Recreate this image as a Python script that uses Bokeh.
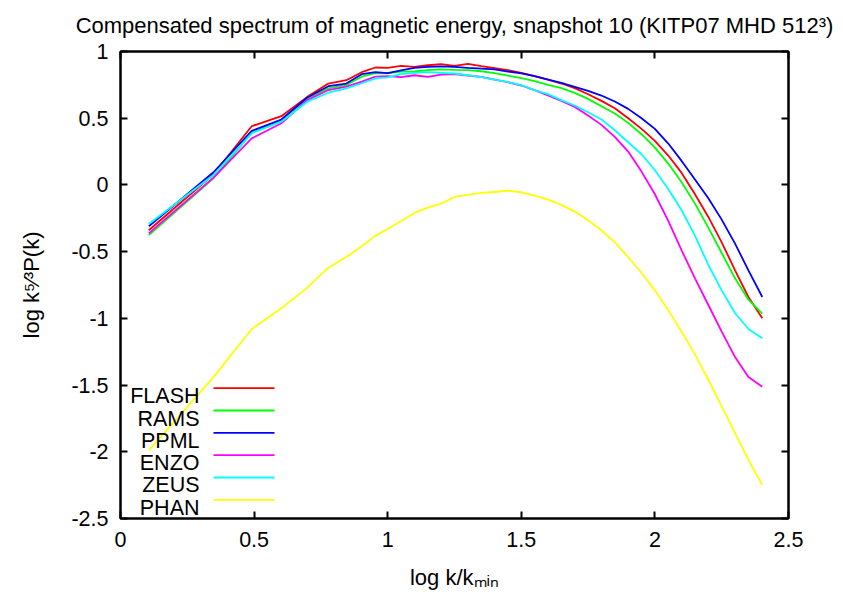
import math
from bokeh.plotting import figure
from bokeh.models import Range1d, FixedTicker, CustomJSTickFormatter, LinearAxis, Label, BoxAnnotation
from bokeh.embed import file_html
from bokeh.resources import INLINE

# ---------------- data ----------------
TITLE = "Compensated spectrum of magnetic energy, snapshot 10 (KITP07 MHD 512\u00b3)"
X_LABEL = "log k/k\u2098\u1d62\u2099"
Y_LABEL = "log k\u2075\u2044\u00b3P(k)"
X_TICKS = [0, 0.5, 1, 1.5, 2, 2.5]
Y_TICKS = [-2.5, -2, -1.5, -1, -0.5, 0, 0.5, 1]

log_k = [0.106, 0.348, 0.491, 0.602, 0.699, 0.778, 0.845, 0.903, 0.954, 1.0,
         1.05, 1.1, 1.15, 1.2, 1.25, 1.3, 1.35, 1.4, 1.45, 1.5,
         1.55, 1.6, 1.65, 1.7, 1.75, 1.8, 1.85, 1.9, 1.95, 2.0,
         2.05, 2.1, 2.15, 2.2, 2.25, 2.3, 2.35, 2.402]

flash = [-0.34, 0.08, 0.44, 0.515, 0.66, 0.76, 0.785, 0.845, 0.88, 0.878,
         0.892, 0.885, 0.897, 0.905, 0.893, 0.907, 0.89, 0.876, 0.86, 0.84,
         0.815, 0.79, 0.76, 0.725, 0.68, 0.63, 0.575, 0.50, 0.42, 0.33,
         0.22, 0.09, -0.07, -0.24, -0.43, -0.64, -0.84, -1.0]

rams = [-0.376, 0.05, 0.39, 0.486, 0.649, 0.724, 0.749, 0.811, 0.837, 0.837,
        0.849, 0.85, 0.861, 0.866, 0.862, 0.86, 0.852, 0.838, 0.82, 0.80,
        0.778, 0.75, 0.725, 0.69, 0.645, 0.59, 0.535, 0.465, 0.38, 0.28,
        0.16, 0.02, -0.14, -0.32, -0.51, -0.70, -0.86, -0.965]

ppml = [-0.31, 0.095, 0.405, 0.49, 0.655, 0.74, 0.76, 0.83, 0.845, 0.838,
        0.858, 0.877, 0.885, 0.888, 0.885, 0.878, 0.872, 0.866, 0.85, 0.836,
        0.815, 0.79, 0.765, 0.735, 0.705, 0.67, 0.625, 0.57, 0.50, 0.42,
        0.31, 0.18, 0.04, -0.10, -0.26, -0.44, -0.64, -0.84]

enzo = [-0.363, 0.055, 0.349, 0.462, 0.636, 0.711, 0.736, 0.774, 0.811, 0.816,
        0.808, 0.822, 0.81, 0.826, 0.83, 0.82, 0.81, 0.79, 0.77, 0.745,
        0.71, 0.67, 0.63, 0.585, 0.52, 0.45, 0.36, 0.25, 0.10, -0.07,
        -0.27, -0.49, -0.70, -0.90, -1.1, -1.29, -1.44, -1.513]

zeus = [-0.293, 0.075, 0.387, 0.474, 0.624, 0.691, 0.724, 0.762, 0.799, 0.806,
        0.83, 0.84, 0.845, 0.84, 0.835, 0.822, 0.808, 0.79, 0.77, 0.748,
        0.71, 0.68, 0.636, 0.595, 0.545, 0.49, 0.41, 0.32, 0.23, 0.11,
        -0.03, -0.19, -0.38, -0.6, -0.79, -0.96, -1.08, -1.15]

phan = [-1.99, -1.44, -1.08, -0.925, -0.77, -0.62, -0.54, -0.46, -0.38, -0.33,
        -0.27, -0.21, -0.17, -0.14, -0.09, -0.075, -0.06, -0.053, -0.043, -0.055,
        -0.08, -0.11, -0.15, -0.2, -0.265, -0.34, -0.43, -0.54, -0.66, -0.79,
        -0.94, -1.10, -1.27, -1.46, -1.66, -1.86, -2.06, -2.25]

NAMES = ["FLASH", "RAMS", "PPML", "ENZO", "ZEUS", "PHAN"]
SERIES = [flash, rams, ppml, enzo, zeus, phan]
COLORS = ["#ff0000", "#00ff00", "#0000ff", "#ff00ff", "#00ffff", "#ffff00"]

# ---------------- layout ----------------
W, H = 843, 594
FL, FR, FT, FB = 120, 788, 51, 518   # frame edges in canvas pixels
FONT = "Liberation Sans"
FS = "21.5px"
FS_BIG = "22px"

p = figure(width=W, height=H, output_backend="svg", toolbar_location=None,
           x_range=Range1d(0, 2.5), y_range=Range1d(-2.5, 1),
           min_border_left=FL, min_border_right=W - FR,
           min_border_top=FT, min_border_bottom=H - FB)
p.xgrid.visible = False
p.ygrid.visible = False
p.outline_line_color = "black"
p.outline_line_width = 2
p.background_fill_color = "white"
p.border_fill_color = "white"

p.title.text = TITLE
p.title.align = "center"
p.title.vertical_align = "top"
p.title.text_font = FONT
p.title.text_font_size = FS_BIG
p.title.text_font_style = "normal"
p.title.text_color = "black"
p.title.standoff = 24

fmt = CustomJSTickFormatter(code="return tick.toString();")
blank = CustomJSTickFormatter(code="return '';")


def style_axis(ax, ticks, formatter):
    ax.ticker = FixedTicker(ticks=ticks, minor_ticks=[])
    ax.formatter = formatter
    ax.axis_line_color = "black"
    ax.axis_line_width = 2
    ax.major_tick_line_color = "black"
    ax.major_tick_line_width = 2
    ax.major_tick_in = 7
    ax.major_tick_out = 0
    ax.minor_tick_line_color = None
    ax.major_label_text_font = FONT
    ax.major_label_text_font_size = FS
    ax.major_label_text_color = "black"
    ax.axis_label_text_font = FONT
    ax.axis_label_text_font_size = FS_BIG
    ax.axis_label_text_font_style = "normal"
    ax.axis_label_text_color = "black"


style_axis(p.xaxis[0], X_TICKS, fmt)
p.xaxis[0].major_label_standoff = 13
p.xaxis[0].axis_label = X_LABEL
p.xaxis[0].axis_label_standoff = 15
style_axis(p.yaxis[0], Y_TICKS, fmt)
p.yaxis[0].major_label_standoff = 12
p.yaxis[0].axis_label = Y_LABEL
p.yaxis[0].axis_label_standoff = 24

top_ax = LinearAxis()
style_axis(top_ax, X_TICKS, blank)
top_ax.major_label_standoff = 0
p.add_layout(top_ax, "above")
right_ax = LinearAxis()
style_axis(right_ax, Y_TICKS, blank)
right_ax.major_label_standoff = 0
p.add_layout(right_ax, "right")

for ys, c in zip(SERIES, COLORS):
    p.line(log_k, ys, line_color=c, line_width=1.8)


def fx(xc):  # canvas x -> frame-relative screen x
    return xc - FL


def fy(yc):  # canvas y -> frame-relative screen y (upwards)
    return FB - yc


# legend (labels right aligned, sample lines to the right)
ROW0, ROWSTEP = 395.7, 22.32
for i, (n, c) in enumerate(zip(NAMES, COLORS)):
    base = ROW0 + i * ROWSTEP
    p.add_layout(Label(x=fx(199), y=fy(base), x_units="screen", y_units="screen",
                       text=n, text_font=FONT, text_font_size=FS, text_color="black",
                       text_align="right", text_baseline="alphabetic"))
    ly = base - 8
    p.add_layout(BoxAnnotation(left=fx(213), right=fx(274), top=fy(ly - 0.9), bottom=fy(ly + 0.9),
                               left_units="screen", right_units="screen",
                               top_units="screen", bottom_units="screen",
                               fill_color=c, fill_alpha=1.0, line_color=None))

open("out.html", "w").write(file_html(p, INLINE))
